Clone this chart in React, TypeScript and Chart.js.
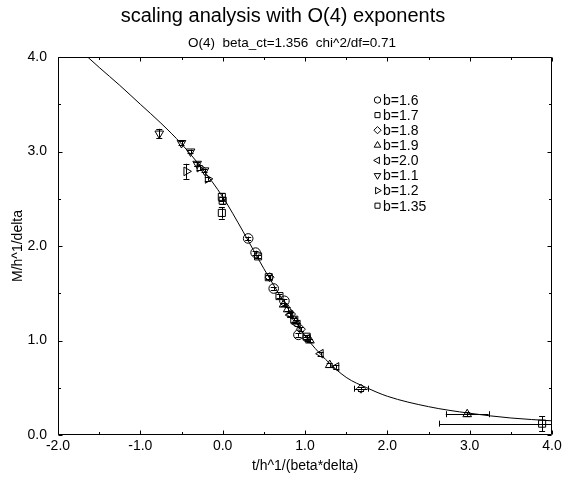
import React, { useEffect, useRef } from 'react';
import { Chart, registerables } from 'chart.js';
import { drawPoint } from 'chart.js/helpers';

Chart.register(...registerables);

const FONT = "'Liberation Sans', Arial, Helvetica, sans-serif";

const titleText = 'scaling analysis with O(4) exponents';
const subtitleText = 'O(4)  beta_ct=1.356  chi^2/df=0.71';
const xTitle = 't/h^1/(beta*delta)';
const yTitle = 'M/h^1/delta';

const xMin = -2;
const xMax = 4;
const yMin = 0;
const yMax = 4;

// fitted scaling function
const curveX = [-1.64, -1.5, -1.25, -1.0, -0.75, -0.5, -0.25, 0.0, 0.25, 0.5, 0.75, 1.0, 1.25, 1.5, 1.75, 2.0, 2.5, 3.0, 3.5, 4.0];
const curveY = [4.0, 3.89, 3.7, 3.5, 3.3, 3.08, 2.82, 2.52, 2.15, 1.76, 1.4, 1.05, 0.8, 0.61, 0.5, 0.41, 0.3, 0.23, 0.18, 0.15];

// series points: [x, y, xerr, yerr]
const b16 = [[0.31, 2.08, 0, 0.02], [0.4, 1.93, 0, 0.02], [0.62, 1.55, 0, 0.02], [0.75, 1.42, 0, 0.02], [0.92, 1.06, 0, 0.02]];
const b17 = [[0.43, 1.89, 0, 0.02], [0.56, 1.67, 0, 0.02], [0.69, 1.47, 0, 0.02], [0.87, 1.22, 0, 0.02], [1.02, 1.04, 0, 0.02]];
const b18 = [[0.57, 1.67, 0, 0.02], [0.83, 1.28, 0, 0.02], [0.95, 1.12, 0, 0.02], [1.68, 0.49, 0.08, 0.02]];
const b19 = [[0.74, 1.38, 0, 0.02], [0.79, 1.33, 0, 0.02], [0.89, 1.2, 0, 0.02], [1.06, 1.0, 0, 0.02], [1.3, 0.74, 0, 0.02], [2.97, 0.22, 0.26, 0.02]];
const b20 = [[0.82, 1.27, 0, 0.02], [0.91, 1.17, 0, 0.02], [1.03, 1.02, 0, 0.02], [1.19, 0.86, 0, 0.02], [1.38, 0.72, 0, 0.02]];
const b11 = [[-0.77, 3.19, 0, 0.05], [-0.5, 3.09, 0, 0.02], [-0.39, 3.0, 0, 0.02], [-0.31, 2.87, 0, 0.02], [-0.22, 2.8, 0, 0.02]];
const b12 = [[-0.44, 2.79, 0, 0.08], [-0.28, 2.83, 0, 0.03], [-0.18, 2.71, 0, 0.02]];
const b135 = [[-0.01, 2.52, 0, 0.04], [0.0, 2.48, 0, 0.04], [-0.01, 2.35, 0, 0.06], [3.88, 0.12, 1.25, 0.08]];

const seriesLabels = ['b=1.6', 'b=1.7', 'b=1.8', 'b=1.9', 'b=2.0', 'b=1.1', 'b=1.2', 'b=1.35'];
const seriesData = [b16, b17, b18, b19, b20, b11, b12, b135];
const seriesStyles = ['circle', 'rect', 'rectRot', 'triangle', 'triangle', 'triangle', 'triangle', 'rect'];
const seriesRotations = [0, 0, 0, 0, 270, 180, 90, 0];
const seriesRadius = [4.8, 5, 4.5, 5, 5, 5, 5, 5];
const legendRadius = [3.2, 3.6, 3.6, 3.8, 3.8, 3.8, 3.8, 3.6];

const W = 562;
const H = 478;

const crisp = (v: number) => Math.round(v) + 0.5;

const framePlugin = {
  id: 'frame',
  afterDatasetsDraw(chart: any) {
    const { ctx, chartArea: a } = chart;
    const xs = chart.scales.x;
    const ys = chart.scales.y;
    ctx.save();
    ctx.beginPath();
    ctx.rect(a.left, a.top, a.right - a.left, a.bottom - a.top);
    ctx.clip();
    ctx.strokeStyle = '#000';
    ctx.lineWidth = 1;
    const cap = 3;
    chart.data.datasets.forEach((ds: any) => {
      if (!ds.errs) return;
      ds.data.forEach((p: any, i: number) => {
        const [xe, ye] = ds.errs[i];
        const px = xs.getPixelForValue(p.x);
        const py = ys.getPixelForValue(p.y);
        ctx.beginPath();
        if (ye > 0) {
          const t = ys.getPixelForValue(p.y + ye);
          const b = ys.getPixelForValue(p.y - ye);
          ctx.moveTo(crisp(px), t); ctx.lineTo(crisp(px), b);
          ctx.moveTo(px - cap, crisp(t)); ctx.lineTo(px + cap, crisp(t));
          ctx.moveTo(px - cap, crisp(b)); ctx.lineTo(px + cap, crisp(b));
        }
        if (xe > 0) {
          const l = xs.getPixelForValue(p.x - xe);
          const r = xs.getPixelForValue(p.x + xe);
          ctx.moveTo(l, crisp(py)); ctx.lineTo(r, crisp(py));
          ctx.moveTo(crisp(l), py - cap); ctx.lineTo(crisp(l), py + cap);
          ctx.moveTo(crisp(r), py - cap); ctx.lineTo(crisp(r), py + cap);
        }
        ctx.stroke();
      });
    });
    ctx.restore();
  },
  afterDraw(chart: any) {
    const { ctx, chartArea: a } = chart;
    const xs = chart.scales.x;
    const ys = chart.scales.y;
    ctx.save();
    ctx.strokeStyle = '#000';
    ctx.lineWidth = 1;
    // frame
    const L = crisp(a.left), R = crisp(a.right - 1), T = crisp(a.top), B = crisp(a.bottom - 1);
    ctx.beginPath();
    ctx.rect(L, T, R - L, B - T);
    ctx.stroke();
    // inward ticks on all sides
    ctx.beginPath();
    for (let v = xMin; v <= xMax + 1e-9; v += 0.5) {
      const len = Math.abs(v - Math.round(v)) < 1e-9 ? 4 : 2.5;
      const px = crisp(xs.getPixelForValue(v));
      ctx.moveTo(px, B); ctx.lineTo(px, B - len);
      ctx.moveTo(px, T); ctx.lineTo(px, T + len);
    }
    for (let v = yMin; v <= yMax + 1e-9; v += 0.5) {
      const len = Math.abs(v - Math.round(v)) < 1e-9 ? 4 : 2.5;
      const py = crisp(ys.getPixelForValue(v));
      ctx.moveTo(L, py); ctx.lineTo(L + len, py);
      ctx.moveTo(R, py); ctx.lineTo(R - len, py);
    }
    ctx.stroke();

    // titles
    ctx.fillStyle = '#000';
    ctx.textAlign = 'center';
    ctx.textBaseline = 'alphabetic';
    ctx.font = `20px ${FONT}`;
    ctx.fillText(titleText, 283, 22);
    ctx.font = `13.5px ${FONT}`;
    ctx.fillText(subtitleText, 292, 47);

    // axis titles
    ctx.font = `14px ${FONT}`;
    ctx.textBaseline = 'middle';
    ctx.fillText(xTitle, (a.left + a.right) / 2, 466);
    ctx.save();
    ctx.translate(18, (a.top + a.bottom) / 2);
    ctx.rotate(-Math.PI / 2);
    ctx.fillText(yTitle, 0, 0);
    ctx.restore();

    // legend
    ctx.font = `14px ${FONT}`;
    ctx.textAlign = 'left';
    let row = 0;
    chart.data.datasets.forEach((ds: any, k: number) => {
      if (!ds.errs) return;
      const idx = k - 1;
      const yy = 100 + row * 15.1;
      ctx.fillStyle = 'rgba(0,0,0,0)';
      ctx.strokeStyle = '#000';
      ctx.lineWidth = 1;
      drawPoint(ctx, { pointStyle: ds.pointStyle, rotation: ds.pointRotation, radius: legendRadius[idx], borderWidth: 1 }, 377.5, yy);
      ctx.fillStyle = '#000';
      ctx.fillText(ds.label, 383, yy + 1);
      row++;
    });
    ctx.restore();
  },
};

export default function App() {
  const ref = useRef<HTMLCanvasElement | null>(null);
  useEffect(() => {
    if (!ref.current) return;
    Chart.defaults.font.family = FONT;
    const datasets: any[] = [
      {
        type: 'line',
        label: 'fit',
        data: curveX.map((x, i) => ({ x, y: curveY[i] })),
        borderColor: '#000',
        borderWidth: 1,
        pointRadius: 0,
        cubicInterpolationMode: 'monotone',
        fill: false,
      },
      ...seriesData.map((s, k) => ({
        type: 'scatter',
        label: seriesLabels[k],
        data: s.map((p) => ({ x: p[0], y: p[1] })),
        errs: s.map((p) => [p[2], p[3]]),
        pointStyle: seriesStyles[k],
        pointRotation: seriesRotations[k],
        pointRadius: seriesRadius[k],
        pointBorderWidth: 1,
        borderColor: '#000',
        backgroundColor: 'rgba(0,0,0,0)',
        showLine: false,
      })),
    ];
    const chart = new Chart(ref.current, {
      type: 'scatter',
      data: { datasets },
      options: {
        animation: false,
        responsive: false,
        events: [],
        layout: { padding: { top: 57, right: 10, left: 0, bottom: 0 } },
        plugins: { legend: { display: false }, tooltip: { enabled: false }, title: { display: false } },
        scales: {
          x: {
            type: 'linear',
            min: xMin,
            max: xMax,
            grid: { display: false, drawTicks: false },
            border: { display: false },
            ticks: { stepSize: 1, padding: 3, color: '#000', font: { size: 14, family: FONT }, callback: (v: any) => Number(v).toFixed(1) },
            afterFit: (s: any) => { s.height = 43; s.paddingLeft = 0; s.paddingRight = 0; },
          },
          y: {
            type: 'linear',
            min: yMin,
            max: yMax,
            grid: { display: false, drawTicks: false },
            border: { display: false },
            ticks: { stepSize: 1, padding: 11, color: '#000', font: { size: 14, family: FONT }, callback: (v: any) => Number(v).toFixed(1) },
            afterFit: (s: any) => { s.width = 58; s.paddingTop = 0; s.paddingBottom = 0; },
          },
        },
      } as any,
      plugins: [framePlugin],
    });
    return () => chart.destroy();
  }, []);
  return (
    <div style={{ position: 'absolute', left: 0, top: 0, width: W, height: H }}>
      <canvas ref={ref} width={W} height={H} style={{ display: 'block' }} />
    </div>
  );
}
